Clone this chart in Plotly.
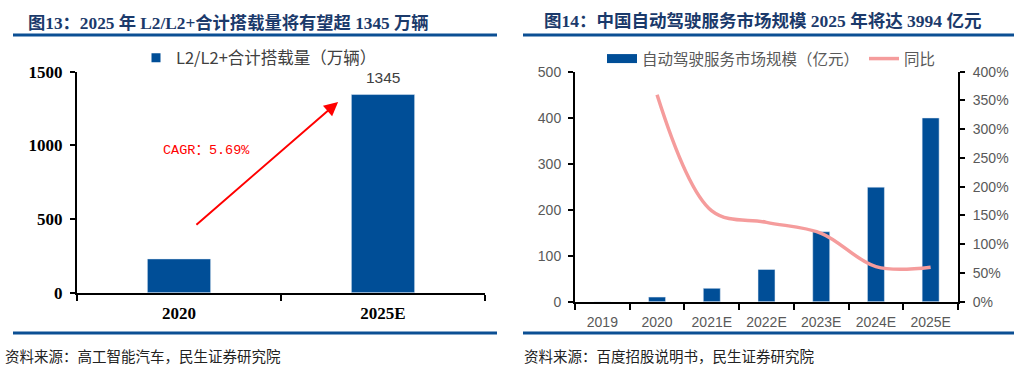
import plotly.graph_objects as go

# ---- data ----
left_categories = ["2020", "2025E"]
left_values = [229.24, 1345]
left_series_name = "L2/L2+合计搭载量（万辆）"
left_yticks = [0, 500, 1000, 1500]

right_categories = ["2019", "2020", "2021E", "2022E", "2023E", "2024E", "2025E"]
right_bar_values = [0, 10, 29, 70, 152, 249, 399.4]
right_yoy_categories = ["2020", "2021E", "2022E", "2023E", "2024E", "2025E"]
right_yoy_values = [3.60, 1.58, 1.38, 1.19, 0.61, 0.60]
right_bar_name = "自动驾驶服务市场规模（亿元）"
right_line_name = "同比"

title_left = "图13：2025 年 L2/L2+合计搭载量将有望超 1345 万辆"
title_right = "图14：中国自动驾驶服务市场规模 2025 年将达 3994 亿元"
source_left = "资料来源：高工智能汽车，民生证券研究院"
source_right = "资料来源：百度招股说明书，民生证券研究院"
cagr_text = "CAGR：5.69%"

W, H = 1015, 369
BLUE = "#004E97"
NAVY = "#1B3A6B"
RULE = "#0B4F94"
PINK = "#F59C9C"
GREY = "#595959"
SERIF = "Liberation Serif, Noto Sans CJK SC, serif"
SANS = "Liberation Sans, Noto Sans CJK SC, sans-serif"
CJK = "Noto Sans CJK SC, sans-serif"


def px_x(p):
    return p / W


def px_y(p):
    return 1 - p / H


fig = go.Figure()

# ---- left chart ----
fig.add_trace(go.Bar(
    x=left_categories, y=left_values, marker_color=BLUE,
    xaxis="x", yaxis="y", showlegend=False, width=0.31,
))
fig.add_trace(go.Scatter(
    x=[None], y=[None], mode="markers", name=left_series_name,
    marker=dict(symbol="square", size=9, color=BLUE),
    xaxis="x", yaxis="y", legend="legend",
))

# ---- right chart ----
fig.add_trace(go.Scatter(
    x=[None], y=[None], mode="lines", name=right_bar_name,
    line=dict(color=BLUE, width=9), xaxis="x2", yaxis="y3", legend="legend2",
))
fig.add_trace(go.Bar(
    x=right_categories, y=right_bar_values, marker_color=BLUE,
    xaxis="x2", yaxis="y3", showlegend=False, width=0.31,
))
fig.add_trace(go.Scatter(
    x=right_yoy_categories, y=right_yoy_values, mode="lines", name=right_line_name,
    line=dict(color=PINK, width=3.5, shape="spline", smoothing=1.0),
    xaxis="x2", yaxis="y4", legend="legend2",
))

annotations = []
# bar value labels (left)
for c, v in zip(left_categories, left_values):
    annotations.append(dict(
        x=c, y=v, xref="x", yref="y", text=f"{v:g}", showarrow=False,
        yanchor="bottom", yshift=7, font=dict(family=SANS, size=15.5, color="#404040"),
    ))
# CAGR arrow
annotations.append(dict(
    x=0.78, y=1295, ax=0.078, ay=453, xref="x", yref="y", axref="x", ayref="y",
    text="", showarrow=True, arrowhead=2, arrowsize=1.4, arrowwidth=2, arrowcolor="#FF0000",
))
annotations.append(dict(
    x=0.137, y=964, xref="x", yref="y", text=cagr_text, showarrow=False,
    font=dict(family="Liberation Mono, Noto Sans CJK SC, monospace", size=13.5, color="#FF0000"),
))
# titles
annotations.append(dict(
    x=px_x(26), y=px_y(23), xref="paper", yref="paper", text=f"<b>{title_left}</b>",
    showarrow=False, xanchor="left", yanchor="middle",
    font=dict(family=SERIF, size=17.3, color=NAVY),
))
annotations.append(dict(
    x=px_x(542), y=px_y(21), xref="paper", yref="paper", text=f"<b>{title_right}</b>",
    showarrow=False, xanchor="left", yanchor="middle",
    font=dict(family=SERIF, size=17.5, color=NAVY),
))
# sources
annotations.append(dict(
    x=px_x(3), y=px_y(355), xref="paper", yref="paper", text=source_left,
    showarrow=False, xanchor="left", yanchor="middle",
    font=dict(family=CJK, size=14.5, color="#222222"),
))
annotations.append(dict(
    x=px_x(522), y=px_y(355), xref="paper", yref="paper", text=source_right,
    showarrow=False, xanchor="left", yanchor="middle",
    font=dict(family=CJK, size=14.5, color="#222222"),
))

shapes = []
for x0, x1 in [(13, 497), (523, 1014)]:
    for yy in (35, 333):
        shapes.append(dict(
            type="line", xref="paper", yref="paper",
            x0=px_x(x0), x1=px_x(x1), y0=px_y(yy), y1=px_y(yy),
            line=dict(color=RULE, width=3),
        ))

axis_common = dict(showgrid=False, zeroline=False, showline=True, linecolor="black",
                   linewidth=2, ticks="outside", tickcolor="black", tickwidth=2,
                   automargin=False)

fig.update_layout(
    width=W, height=H, margin=dict(l=0, r=0, t=0, b=0, autoexpand=False),
    paper_bgcolor="white", plot_bgcolor="white",
    bargap=0.69,
    xaxis=dict(domain=[px_x(77), px_x(485)], type="category", range=[-0.5, 1.5],
               tickson="boundaries", ticklen=6, anchor="y", ticklabelstandoff=4,
               tickfont=dict(family=SERIF, size=17, color="black", weight="bold"),
               **axis_common),
    yaxis=dict(domain=[px_y(292.7), px_y(71.7)], range=[0, 1500], tickvals=left_yticks,
               ticklen=5, anchor="x", ticklabelstandoff=4,
               tickfont=dict(family=SERIF, size=17, color="black", weight="bold"),
               **axis_common),
    xaxis2=dict(domain=[px_x(575), px_x(958)], type="category", range=[-0.5, 6.5],
                tickson="boundaries", ticklen=6, anchor="y3", ticklabelstandoff=6,
                tickfont=dict(family=SANS, size=14, color=GREY),
                **axis_common),
    yaxis3=dict(domain=[px_y(301.7), px_y(71.7)], range=[0, 500], dtick=100,
                ticklen=5, anchor="x2", ticklabelstandoff=4,
                tickfont=dict(family=SANS, size=14, color=GREY),
                **axis_common),
    yaxis4=dict(domain=[px_y(301.7), px_y(71.7)], range=[0, 4], dtick=0.5,
                tickformat=".0%", overlaying="y3", side="right", anchor="x2",
                ticklen=5, ticklabelstandoff=5,
                tickfont=dict(family=SANS, size=14, color=GREY),
                **axis_common),
    legend=dict(x=px_x(136), y=px_y(58), xanchor="left", yanchor="middle",
                orientation="h", bgcolor="rgba(0,0,0,0)",
                font=dict(family=CJK, size=16.5, color="#404040")),
    legend2=dict(x=px_x(602), y=px_y(59), xanchor="left", yanchor="middle",
                 orientation="h", bgcolor="rgba(0,0,0,0)",
                 font=dict(family=CJK, size=15.5, color=GREY)),
    annotations=annotations,
    shapes=shapes,
)

fig.write_html("out.html", config={"displayModeBar": False},
               post_script="document.body.style.margin='0';")
